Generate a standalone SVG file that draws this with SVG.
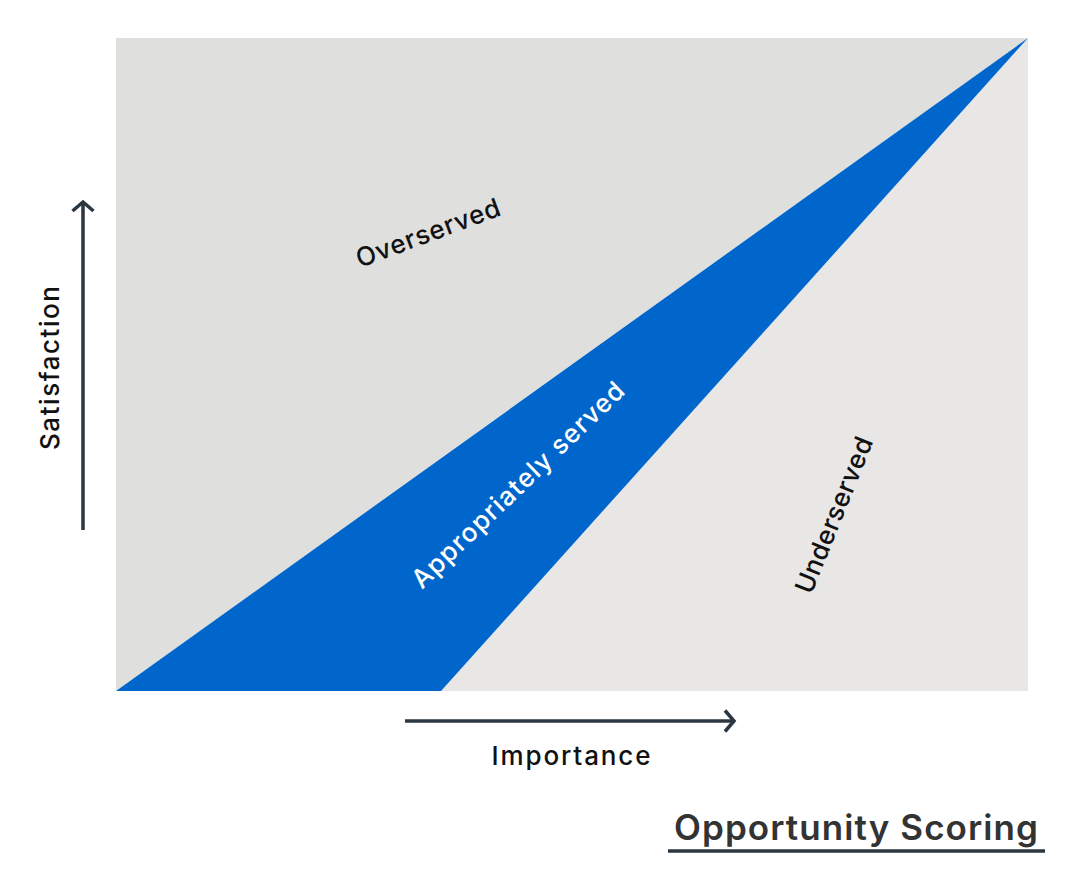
<svg xmlns="http://www.w3.org/2000/svg" width="1087" height="874" viewBox="0 0 1087 874">
<style>
.lbl{font-family:"Inter","Liberation Sans",sans-serif;font-size:26px;font-weight:500;fill:#111;}
.ax{stroke:#2b3640;stroke-width:3.5;fill:none;}
</style>
<defs>
<marker id="chev" viewBox="0 0 24 24" refX="20" refY="12" markerWidth="24" markerHeight="24" markerUnits="userSpaceOnUse" orient="auto">
<path d="M11,1.5 L20,12 L11,22.5" fill="none" stroke="#2b3640" stroke-width="3.5"/>
</marker>
</defs>
<rect width="1087" height="874" fill="#fff"/>
<g id="regions">
<polygon id="overserved-area" points="116,38 1028,38 116,691" fill="#dfdfde"/>
<polygon id="underserved-area" points="1028,38 1028,691 441,691" fill="#e8e7e6"/>
<polygon id="appropriate-area" points="116,691 1028,38 441,691" fill="#0066cc"/>
</g>
<g id="connectors">
<line class="ax" x1="83" y1="530" x2="83" y2="202" marker-end="url(#chev)"/>
<line class="ax" x1="405" y1="721" x2="734" y2="721" marker-end="url(#chev)"/>
<line x1="668" y1="851" x2="1045" y2="851" stroke="#2b3640" stroke-width="3.5"/>
</g>
<g id="labels">
<text class="lbl" transform="translate(59,368) rotate(-90)" text-anchor="middle" textLength="164" lengthAdjust="spacing">Satisfaction</text>
<text class="lbl" x="571" y="765" text-anchor="middle" textLength="159" lengthAdjust="spacing">Importance</text>
<text class="lbl" transform="translate(428,233) rotate(-20.5) translate(0,9)" text-anchor="middle" textLength="152" lengthAdjust="spacing">Overserved</text>
<text class="lbl" transform="translate(518,485) rotate(-44) translate(0,9)" text-anchor="middle" textLength="284" lengthAdjust="spacing" style="fill:#fff">Appropriately served</text>
<text class="lbl" transform="translate(834,515) rotate(-68) translate(0,9)" text-anchor="middle" textLength="166" lengthAdjust="spacing">Underserved</text>
<text x="856" y="840" text-anchor="middle" font-family="Inter,'Liberation Sans',sans-serif" font-size="35" font-weight="600" fill="#333" textLength="364" lengthAdjust="spacing">Opportunity Scoring</text>
</g>
</svg>
